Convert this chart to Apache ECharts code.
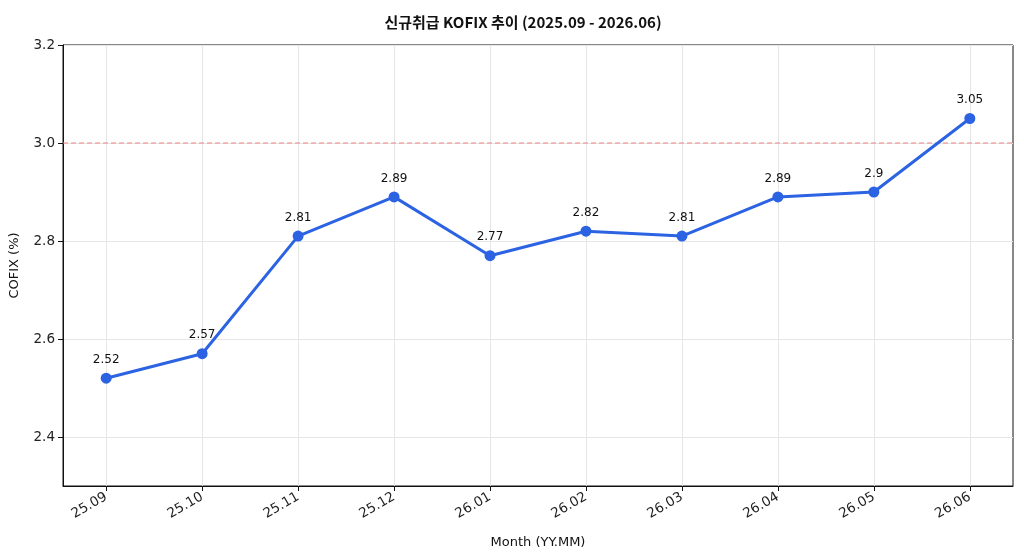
<!DOCTYPE html>
<html><head><meta charset="utf-8">
<script src="https://cdn.jsdelivr.net/npm/echarts@6/dist/echarts.min.js"></script>
<style>html,body{margin:0;padding:0;background:#fff}#c{width:1024px;height:559px}</style>
</head><body><div id="c"></div>
<script>
const categories = ['25.09','25.10','25.11','25.12','26.01','26.02','26.03','26.04','26.05','26.06'];
const cofix = [2.52, 2.57, 2.81, 2.89, 2.77, 2.82, 2.81, 2.89, 2.9, 3.05];
const yTicks = [2.4, 2.6, 2.8, 3.0, 3.2];
const refLine = 3.0;

const chart = echarts.init(document.getElementById('c'), null, {renderer:'canvas'});
const F = 'DejaVu Sans';
const xIdx = categories.map((c,i)=>i);
const xMin = -0.45, xMax = categories.length - 1 + 0.45;
chart.setOption({
  animation: false,
  backgroundColor: '#fff',
  title: {
    text: '신규취급 KOFIX 추이 (2025.09 - 2026.06)',
    left: 518, top: 10, textAlign: 'center',
    textStyle: {fontFamily: 'Noto Sans CJK KR', fontSize: 15, fontWeight: 'bold', color: '#111'}
  },
  grid: {left: 62, right: 11, top: 45, bottom: 73, show: true, borderColor: '#111', borderWidth: 1},
  xAxis: {
    type: 'value', min: xMin, max: xMax,
    name: 'Month (YY.MM)', nameLocation: 'middle', nameGap: 50,
    nameTextStyle: {fontFamily: F, fontSize: 13, color: '#111'},
    axisLine: {show: true, onZero: false, lineStyle: {color: '#111', width: 1}},
    axisTick: {show: true, length: 5, lineStyle: {color: '#111'}, customValues: xIdx},
    axisLabel: {customValues: xIdx, formatter: v => categories[Math.round(v)] || '',
      rotate: 30, fontFamily: F, fontSize: 13.5, color: '#222', margin: 10},
    splitLine: {show: true, lineStyle: {color: '#e6e6e6', width: 1}}
  },
  yAxis: {
    type: 'value', min: 2.3, max: 3.2,
    name: 'COFIX (%)', nameLocation: 'middle', nameGap: 42, nameRotate: 90,
    nameTextStyle: {fontFamily: F, fontSize: 13, color: '#111'},
    axisLine: {show: true, onZero: false, lineStyle: {color: '#111', width: 1}},
    axisTick: {show: true, length: 5, lineStyle: {color: '#111'}, customValues: yTicks},
    axisLabel: {customValues: yTicks, formatter: v => v.toFixed(1), fontFamily: F, fontSize: 13.5, color: '#222', margin: 8},
    splitLine: {show: true, lineStyle: {color: '#e6e6e6', width: 1}}
  },
  series: [{
    type: 'line',
    data: [[xMin, refLine], [xMax, refLine]],
    symbol: 'none', silent: true,
    lineStyle: {color: '#f08080', type: [5, 3], width: 1.1},
    z: 2
  }, {
    type: 'line',
    data: cofix.map((v,i)=>[i, v]),
    symbol: 'circle', symbolSize: 11,
    lineStyle: {color: '#2b63e3', width: 3},
    itemStyle: {color: '#2b63e3'},
    label: {show: true, position: 'top', distance: 7, formatter: p => String(p.value[1]),
      fontFamily: F, fontSize: 12, color: '#111'},
    z: 5
  }]
});
</script></body></html>
